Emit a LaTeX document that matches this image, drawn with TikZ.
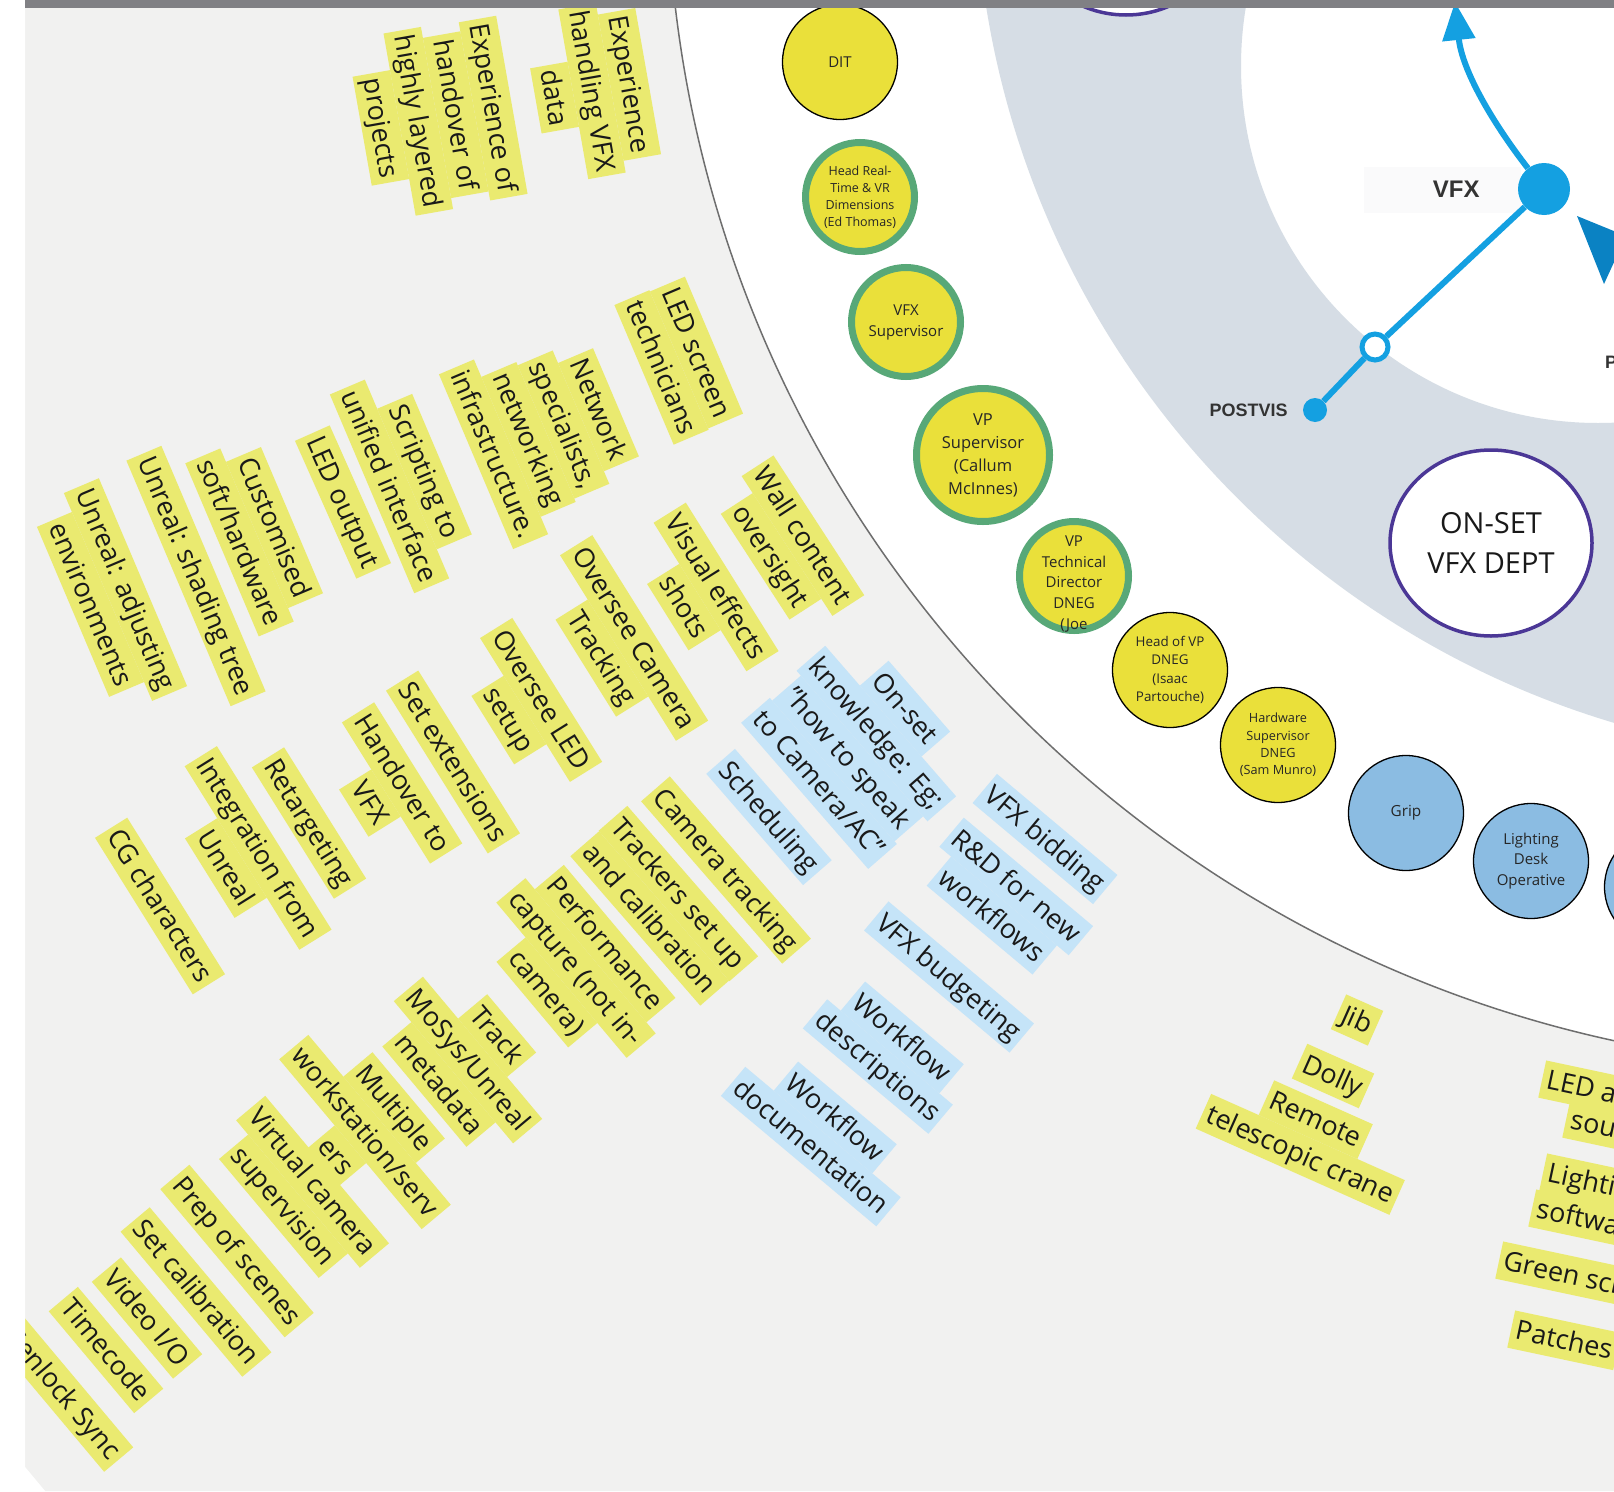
\documentclass[tikz,border=0pt]{standalone}
\usepackage{fontspec}
\setmainfont{Open Sans}
\newfontfamily\tagfont{Liberation Sans}
\usepackage{xcolor}
\usetikzlibrary{arrows.meta, positioning, shapes.geometric}

\definecolor{pagebg}{RGB}{241,241,240}
\definecolor{ringgray}{RGB}{214,221,229}
\definecolor{topbar}{RGB}{128,128,132}
\definecolor{arcline}{RGB}{110,110,110}
\definecolor{noteyellow}{RGB}{234,234,112}
\definecolor{noteblue}{RGB}{197,228,248}
\definecolor{roleyellow}{RGB}{234,224,58}
\definecolor{crewblue}{RGB}{139,188,226}
\definecolor{leadgreen}{RGB}{88,168,120}
\definecolor{deptpurple}{RGB}{75,55,150}
\definecolor{flowblue}{RGB}{20,160,225}
\definecolor{flowdark}{RGB}{10,130,195}
\definecolor{labelbg}{RGB}{250,250,251}

\setlength{\fboxsep}{0pt}
\newcommand\notecol{noteyellow}
\newcommand\band[1]{\colorbox{\notecol}{\rule[-10pt]{0pt}{38pt}\kern5pt #1\kern5pt}}

\begin{document}
\begin{tikzpicture}[
  x=1pt, y=-1pt,
  ynote/.style={inner sep=0pt, align=center, text=black!90, font=\fontsize{27}{38}\selectfont, execute at begin node={\def\notecol{noteyellow}}},
  bnote/.style={ynote, execute at begin node={\def\notecol{noteblue}}},
  edgenote/.style={ynote, anchor=west, rotate=-12},
  role/.style={circle, draw=black, line width=1.3pt, fill=roleyellow, minimum size=115pt, inner sep=0pt, align=center, text=black!85, font=\fontsize{13}{17.5}\selectfont},
  lead/.style={role, draw=leadgreen, line width=7pt, minimum size=109pt},
  crew/.style={role, fill=crewblue},
  dept/.style={ellipse, draw=deptpurple, line width=3.5pt, fill=white, minimum width=202pt, minimum height=186pt, inner sep=0pt, align=center, text=black!90, font=\fontsize{29}{40}\selectfont},
  flow/.style={draw=flowblue, line width=6pt},
  hub/.style={circle, fill=flowblue, minimum size=52pt, inner sep=0pt},
  tag/.style={inner sep=0pt, text=black!80, font=\tagfont\bfseries\fontsize{18}{20}\selectfont},
]
\useasboundingbox (0,0) rectangle (1614,1491);

% background
\fill[pagebg] (25,8) -- (1614,8) -- (1614,1491) -- (45,1491) -- (25,1467) -- cycle;
\begin{scope}
  \clip (25,8) -- (1614,8) -- (1614,1491) -- (45,1491) -- (25,1467) -- cycle;
  \fill[white] (1870,-135) circle[radius=1203pt];
  \draw[arcline, line width=1.5pt] (1870,-135) circle[radius=1203pt];
  \fill[ringgray, even odd rule] (1870,-135) circle[radius=895pt] (1598,66) circle[radius=357pt];
\end{scope}

% departments
\node[dept] (topdept) at (1126,-78) {};
\node[dept] (onsetdept) at (1491,543) {ON-SET\\VFX DEPT};

% VFX flow
\fill[labelbg] (1364,167) rectangle (1521,213);
\node[hub] (vfx) at (1544,189) {};
\node[circle, draw=flowblue, line width=5pt, fill=white, minimum size=26pt, inner sep=0pt] (midvis) at (1375,347) {};
\node[circle, fill=flowblue, minimum size=24pt, inner sep=0pt] (postvis) at (1315,410) {};
\draw[flow] (vfx) -- (midvis);
\draw[flow] (midvis) -- (postvis);
\draw[flow, -{Triangle[length=38pt, width=32pt]}] (vfx) .. controls (1492,122) and (1462,70) .. (1455,2);
\fill[flowdark] (1577,216) -- (1626,236) -- (1604,284) -- cycle;
\node[tag, font=\tagfont\bfseries\fontsize{24}{26}\selectfont, left=38pt of vfx] (vfxlabel) {VFX};
\node[tag, left=15pt of postvis] (postvislabel) {POSTVIS};
\node[tag, anchor=west] (previslabel) at (1605,362) {P};

% roles on the arc
\node[role, font=\fontsize{15}{20}\selectfont] (dit) at (840,62) {DIT};
\node[lead, font=\fontsize{12.5}{17}\selectfont] (headrt) at (860,197) {Head Real-\\Time \& VR\\Dimensions\\(Ed Thomas)};
\node[lead, font=\fontsize{15}{21}\selectfont] (vfxsup) at (906,322) {VFX\\Supervisor};
\node[lead, minimum size=133pt, font=\fontsize{16.5}{23}\selectfont] (vpsup) at (983,455) {VP\\Supervisor\\(Callum\\McInnes)};
\node[lead, label={[align=center, text=black!85, font=\fontsize{15}{20.7}\selectfont, yshift=-8pt]center:VP\\Technical\\Director\\DNEG\\(Joe}] (vptd) at (1074,576) {};
\node[role, font=\fontsize{13.4}{18.5}\selectfont] (headvp) at (1170,670) {Head of VP\\DNEG\\(Isaac\\Partouche)};
\node[role, font=\fontsize{12.7}{17.3}\selectfont] (hwsup) at (1278,745) {Hardware\\Supervisor\\DNEG\\(Sam Munro)};
\node[crew, font=\fontsize{15.3}{20}\selectfont] (grip) at (1406,813) {Grip};
\node[crew, font=\fontsize{15}{20.7}\selectfont] (lighting) at (1531,861) {Lighting\\Desk\\Operative};
\node[crew] (crewnext) at (1662,887) {};

% yellow notes
\node[ynote, rotate=-80] (vfxdata) at (592,91) {\band{Experience}\\\band{handling VFX}\\\band{data}};
\node[ynote, rotate=-80] (handover) at (437,118) {\band{Experience of}\\\band{handover of}\\\band{highly layered}\\\band{projects}};
\node[ynote, rotate=-67] (ledtech) at (679,360) {\band{LED screen}\\\band{technicians}};
\node[ynote, rotate=-67] (network) at (546,432) {\band{Network}\\\band{specialists,}\\\band{networking}\\\band{infrastructure.}};
\node[ynote, rotate=-67] (scripting) at (407,479) {\band{Scripting to}\\\band{unified interface}};
\node[ynote, rotate=-66] (ledout) at (343,502) {\band{LED output}};
\node[ynote, rotate=-67] (custom) at (257,535) {\band{Customised}\\\band{soft/hardware}};
\node[ynote, rotate=-67] (shading) at (196,576) {\band{Unreal: shading tree}};
\node[ynote, rotate=-67] (envs) at (108,597) {\band{Unreal: adjusting}\\\band{environments}};
\node[ynote, rotate=-57] (wall) at (787,546) {\band{Wall content}\\\band{oversight}};
\node[ynote, rotate=-58] (vfxshots) at (700,597) {\band{Visual effects}\\\band{shots}};
\node[ynote, rotate=-58] (camtrack) at (618,648) {\band{Oversee Camera}\\\band{Tracking}};
\node[ynote, rotate=-58] (ledsetup) at (525,710) {\band{Oversee LED}\\\band{setup}};
\node[ynote, rotate=-58] (setext) at (453,762) {\band{Set extensions}};
\node[ynote, rotate=-58] (handvfx) at (386,793) {\band{Handover to}\\\band{VFX}};
\node[ynote, rotate=-58] (retarget) at (309,823) {\band{Retargeting}};
\node[ynote, rotate=-58] (integ) at (242,858) {\band{Integration from}\\\band{Unreal}};
\node[ynote, rotate=-58] (cgchar) at (160,906) {\band{CG characters}};
\node[ynote, rotate=-49] (camtracking) at (726,870) {\band{Camera tracking}};
\node[ynote, rotate=-49] (trackers) at (664,906) {\band{Trackers set up}\\\band{and calibration}};
\node[ynote, rotate=-50] (perfcap) at (576,968) {\band{Performance}\\\band{capture (not in-}\\\band{camera)}};
\node[ynote, rotate=-50] (mosys) at (468,1060) {\band{Track}\\\band{MoSys/Unreal}\\\band{metadata}};
\node[ynote, rotate=-50] (multiws) at (365,1132) {\band{Multiple}\\\band{workstation/serv}\\\band{ers}};
\node[ynote, rotate=-50] (virtcam) at (298,1194) {\band{Virtual camera}\\\band{supervision}};
\node[ynote, rotate=-50] (prep) at (237,1251) {\band{Prep of scenes}};
\node[ynote, rotate=-50] (setcal) at (196,1292) {\band{Set calibration}};
\node[ynote, rotate=-50] (videoio) at (147,1318) {\band{Video I/O}};
\node[ynote, rotate=-50] (timecode) at (106,1350) {\band{Timecode}};
\node[ynote, rotate=-50] (genlock) at (62,1392) {\band{Genlock Sync}};
\node[ynote, rotate=-24] (jib) at (1357,1020) {\band{Jib}};
\node[ynote, rotate=-24] (dolly) at (1333,1076) {\band{Dolly}};
\node[ynote, rotate=-24] (crane) at (1308,1137) {\band{Remote}\\\band{telescopic crane}};

% blue notes
\node[bnote, rotate=-49] (onset) at (862,746) {\band{On-set}\\\band{knowledge: Eg;}\\\band{"how to speak}\\\band{to Camera/AC"}};
\node[bnote, rotate=-49] (sched) at (769,817) {\band{Scheduling}};
\node[bnote, rotate=-40] (bidding) at (1045,839) {\band{VFX bidding}};
\node[bnote, rotate=-40] (rnd) at (1004,901) {\band{R\&D for new}\\\band{workflows}};
\node[bnote, rotate=-40] (budget) at (949,977) {\band{VFX budgeting}};
\node[bnote, rotate=-40] (wfdesc) at (890,1052) {\band{Workflow}\\\band{descriptions}};
\node[bnote, rotate=-40] (wfdoc) at (823,1132) {\band{Workflow}\\\band{documentation}};

% notes cut by the right edge
\node[edgenote] (ledsound) at (1542,1079) {\band{LED a\hspace{60pt}}};
\node[edgenote] (ledsoundb) at (1566,1119) {\band{sou\hspace{60pt}}};
\node[edgenote] (lightsw) at (1543,1172) {\band{Lighti\hspace{60pt}}};
\node[edgenote] (lightswb) at (1532,1208) {\band{softwa\hspace{60pt}}};
\node[edgenote] (greensc) at (1499,1260) {\band{Green scr\hspace{60pt}}};
\node[edgenote] (patches) at (1511,1329) {\band{Patches}};

% frame
\fill[white] (0,0) -- (25,0) -- (25,1467) -- (45,1491) -- (0,1491) -- cycle;
\fill[topbar] (25,0) rectangle (1614,8);

\end{tikzpicture}
\end{document}
